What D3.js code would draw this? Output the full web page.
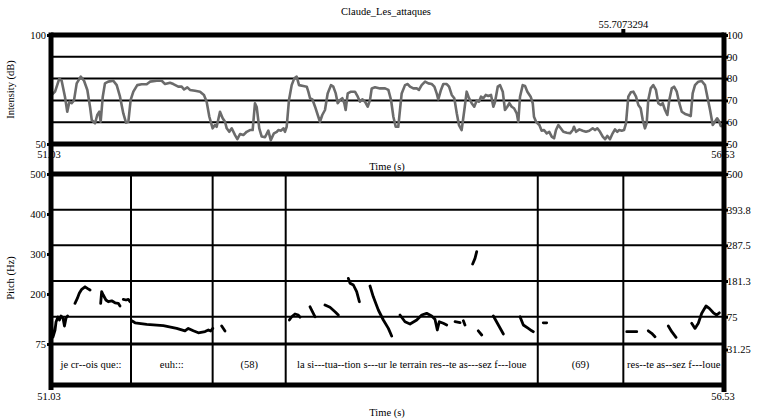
<!DOCTYPE html>
<html><head><meta charset="utf-8">
<script src="https://cdn.jsdelivr.net/npm/d3@7"></script>
<style>
body{margin:0;background:#fff}
svg{display:block}
text{font-family:"Liberation Serif","Times New Roman",serif;fill:#000}
</style>
</head><body><svg id="c" width="757" height="420"></svg>
<script>
// ---------------- data ----------------
const title = "Claude_Les_attaques";
const timeDomain = [51.03, 56.53];
const timeLabels = ["51.03", "56.53"];
const cursorTime = 55.7073294;
const cursorLabel = "55.7073294";

const intensityDomain = [50, 100];
const intensityLeftTicks = [50, 100];
const intensityRightTicks = [50, 60, 70, 80, 90, 100];
const intensityGrid = [60, 70, 80, 90];

const intensityTime = [51.030,51.036,51.063,51.098,51.117,51.144,51.163,51.180,51.199,51.218,51.240,51.273,51.300,51.327,51.349,51.363,51.390,51.408,51.425,51.436,51.453,51.471,51.498,51.539,51.567,51.594,51.621,51.643,51.662,51.681,51.703,51.735,51.771,51.812,51.839,51.894,51.935,51.962,52.003,52.030,52.070,52.098,52.117,52.144,52.166,52.207,52.248,52.280,52.302,52.324,52.351,52.370,52.384,52.411,52.433,52.452,52.466,52.487,52.507,52.534,52.553,52.575,52.602,52.629,52.656,52.678,52.697,52.711,52.732,52.752,52.779,52.806,52.826,52.852,52.875,52.888,52.910,52.929,52.942,52.956,52.975,52.997,53.018,53.038,53.057,53.092,53.120,53.133,53.147,53.166,53.188,53.210,53.228,53.247,53.269,53.291,53.318,53.337,53.357,53.373,53.392,53.411,53.427,53.438,53.455,53.482,53.514,53.537,53.555,53.574,53.596,53.618,53.637,53.651,53.678,53.719,53.760,53.787,53.809,53.828,53.847,53.868,53.882,53.896,53.923,53.945,53.964,53.991,54.019,54.037,54.059,54.087,54.114,54.141,54.163,54.182,54.195,54.217,54.236,54.264,54.283,54.305,54.326,54.346,54.364,54.386,54.408,54.427,54.446,54.468,54.489,54.509,54.528,54.544,54.563,54.583,54.604,54.626,54.645,54.659,54.681,54.700,54.722,54.740,54.759,54.776,54.795,54.814,54.836,54.849,54.863,54.885,54.904,54.923,54.950,54.967,54.977,54.994,55.021,55.040,55.059,55.081,55.102,55.122,55.141,55.157,55.176,55.196,55.217,55.245,55.272,55.294,55.304,55.321,55.348,55.375,55.402,55.429,55.457,55.476,55.495,55.517,55.539,55.558,55.576,55.598,55.620,55.639,55.658,55.674,55.694,55.713,55.729,55.748,55.768,55.789,55.811,55.830,55.849,55.866,55.884,55.898,55.911,55.931,55.952,55.974,55.993,56.013,56.029,56.048,56.067,56.083,56.103,56.122,56.144,56.165,56.185,56.212,56.238,56.258,56.274,56.293,56.320,56.348,56.375,56.394,56.416,56.438,56.456,56.474,56.492,56.503,56.530];
const intensityDb = [71.0,72.5,74.0,80.0,79.0,71.7,64.8,69.4,68.7,70.0,77.8,80.9,79.0,74.8,67.0,61.0,59.5,63.3,64.8,60.2,71.7,77.8,78.6,79.0,77.0,71.7,64.0,59.8,60.2,70.2,74.0,77.0,77.4,77.4,78.6,79.0,79.0,77.5,78.1,77.5,76.3,76.3,75.0,76.0,74.8,74.4,74.0,72.5,69.4,62.5,57.2,58.7,57.9,64.8,61.8,60.2,57.2,55.6,57.2,54.1,52.2,54.6,54.1,55.6,56.4,56.4,68.7,67.0,57.2,53.4,53.1,56.1,51.8,54.9,55.6,56.4,56.1,57.2,55.6,57.9,70.2,77.0,80.1,80.9,77.0,76.6,76.3,74.0,71.0,70.5,67.1,63.3,60.2,63.3,65.6,73.2,77.0,76.3,73.2,68.7,70.2,71.0,68.7,65.6,73.2,74.0,74.0,71.7,69.4,70.5,69.4,67.1,70.2,75.5,76.0,75.5,75.5,74.8,70.2,62.5,57.9,57.9,65.6,73.2,77.0,77.5,76.3,75.5,75.5,74.8,77.0,78.6,77.8,77.5,76.3,73.2,70.5,74.8,77.5,77.5,76.3,72.5,71.0,64.1,58.7,56.4,65.6,74.0,71.0,68.7,67.1,69.9,69.4,71.7,71.0,72.5,72.0,72.5,67.1,69.4,76.3,77.0,74.0,65.6,67.1,68.7,67.1,66.4,64.1,60.2,71.7,77.0,76.6,74.0,71.7,68.7,62.5,60.2,58.7,56.1,56.4,54.9,55.6,53.4,52.6,56.4,58.7,57.2,55.6,55.2,54.9,56.4,57.9,55.6,56.7,56.1,55.6,56.1,57.2,56.4,57.2,55.6,53.4,52.2,53.7,52.2,54.9,56.7,55.6,56.4,56.1,56.4,59.5,71.7,73.7,74.0,71.7,67.9,66.4,61.0,57.2,59.5,70.2,75.5,77.0,74.8,68.7,67.9,68.7,65.6,63.3,70.2,75.5,76.3,74.0,68.7,64.8,63.8,63.3,62.8,73.2,77.0,78.6,78.9,77.0,71.7,65.6,58.7,60.2,61.8,60.2,58.3,58.0];

const pitchDomain = [75, 500];
const pitchLeftTicks = [75, 200, 300, 400, 500];
const pitchRightTicks = [500, 393.75, 287.5, 181.25, 75];
const pitchRightLabels = ["500", "393.8", "287.5", "181.3", "75"];
const pitchExtraLabel = "31.25";

// null separates voiced stretches
const pitchTime = [51.034,51.046,51.063,51.071,51.087,51.099,51.112,51.128,51.140,51.153,51.165,null,
  51.226,51.245,51.261,51.281,51.308,51.327,51.349,null,
  51.436,51.444,51.457,51.479,51.498,51.526,51.553,51.580,51.594,null,
  51.621,51.643,51.662,51.676,null,
  51.690,51.717,51.812,51.948,52.057,52.125,52.152,52.193,52.234,52.289,52.316,52.335,52.352,null,
  52.425,52.452,null,
  52.978,52.997,53.024,53.051,53.065,null,
  53.147,53.188,null,
  53.269,53.310,53.351,53.378,null,
  53.460,53.474,53.501,53.528,53.550,null,
  53.637,53.664,53.705,53.746,53.787,53.814,null,
  53.882,53.923,53.964,54.019,54.060,54.100,54.141,54.168,54.187,54.203,54.236,54.264,null,
  54.332,54.373,null,
  54.400,54.413,null,
  54.476,54.495,54.509,null,
  54.522,54.550,null,
  54.645,54.686,54.727,null,
  54.863,54.890,54.931,54.959,54.972,null,
  55.053,55.081,null,
  55.735,55.817,null,
  55.911,55.939,55.966,null,
  56.075,56.103,56.138,null,
  56.266,56.293,56.320,56.348,56.383,56.410,56.443,56.470,56.492];
const pitchHz = [122.5,92.5,110,130,142.5,135,145,140,120,140,145,null,
  176.7,189,201.7,211.7,218,214,210,null,
  176.7,205.7,197.5,185,180.7,183,178,176.7,170,null,
  186.7,185,186.7,180.7,null,
  133,128,124,121,114,108,114,108,103,106,110,107.5,114,null,
  120,107.5,null,
  135,143,150,147.5,142,null,
  168,143,null,
  172.5,166.7,155.7,147.5,null,
  239,227,222.5,205.7,180.7,null,
  220,193,160,135,114,95,null,
  147.5,130.7,125,135,147.5,151.7,145,136.7,110,130.7,126.7,122.5,null,
  130.7,128.3,null,
  133,122.5,null,
  275,289,305.7,null,
  108,97.5,null,
  145,122.5,100,null,
  143,122.5,114,108,105.8,null,
  128,128,null,
  105.8,105.8,null,
  108,101.7,93,null,
  120,105.8,91.7,null,
  126.7,114,126.7,151.7,170,164,153,147.5,153];

const tierBounds = [51.03, 51.684, 52.351, 52.948, 55.008, 55.7073294, 56.53];
const tierLabels = ["je cr--ois que::", "euh:::", "(58)",
  "la si---tua--tion s---ur le terrain res--te as---sez f---loue", "(69)",
  "res--te as--sez f---loue"];

// ---------------- layout ----------------
const L = 51, R = 724;
const iTop = 35, iBot = 144;
const pTop = 174, pBot = 344, tBot = 385;
const FS = 10.5;
const svg = d3.select("#c");

const x = d3.scaleLinear().domain(timeDomain).range([L, R]);
const yI = d3.scaleLinear().domain(intensityDomain).range([iBot, iTop]);
const yP = d3.scaleLinear().domain(pitchDomain).range([pBot, pTop]);
const yPR = d3.scaleLinear().domain(pitchDomain).range([316.7, pTop]);

// title & cursor
svg.append("text").attr("x", 386).attr("y", 15).attr("text-anchor", "middle")
  .attr("font-size", FS).text(title);
svg.append("text").attr("x", x(cursorTime)).attr("y", 28).attr("text-anchor", "middle")
  .attr("font-size", FS).text(cursorLabel);
svg.append("rect").attr("x", x(cursorTime) - 2).attr("y", 29).attr("width", 4).attr("height", 8).attr("fill", "#000");

// intensity grid
svg.append("g").selectAll("line").data(intensityGrid).join("line")
  .attr("x1", L).attr("x2", R).attr("y1", d => yI(d)).attr("y2", d => yI(d))
  .attr("stroke", "#000").attr("stroke-width", 2);

// pitch grid
svg.append("g").selectAll("line").data(pitchRightTicks.slice(1)).join("line")
  .attr("x1", L).attr("x2", R).attr("y1", d => yPR(d)).attr("y2", d => yPR(d))
  .attr("stroke", "#000").attr("stroke-width", 2);
svg.append("line").attr("x1", L).attr("x2", R).attr("y1", yP(75)).attr("y2", yP(75))
  .attr("stroke", "#000").attr("stroke-width", 3);

// tier boundaries
svg.append("g").selectAll("line").data(tierBounds.slice(1, -1)).join("line")
  .attr("x1", d => x(d)).attr("x2", d => x(d)).attr("y1", pTop).attr("y2", tBot)
  .attr("stroke", "#000").attr("stroke-width", 2);

// tier labels
const mids = tierLabels.map((s, i) => (tierBounds[i] + tierBounds[i + 1]) / 2);
svg.append("g").selectAll("text").data(tierLabels).join("text")
  .attr("x", (d, i) => x(mids[i])).attr("y", 368).attr("text-anchor", "middle")
  .attr("font-size", FS).text(d => d);

// intensity curve
const iData = intensityTime.map((t, i) => [t, intensityDb[i]]);
svg.append("path").datum(iData)
  .attr("d", d3.line().x(d => x(d[0])).y(d => yI(d[1])))
  .attr("fill", "none").attr("stroke", "#6b6b6b").attr("stroke-width", 2.6)
  .attr("stroke-linejoin", "round");

// pitch curve
const pData = pitchTime.map((t, i) => [t, pitchHz[i]]);
svg.append("path").datum(pData)
  .attr("d", d3.line().defined(d => d[0] !== null).x(d => x(d[0])).y(d => yP(d[1])))
  .attr("fill", "none").attr("stroke", "#000").attr("stroke-width", 2.8)
  .attr("stroke-linecap", "round").attr("stroke-linejoin", "round");

// frame
const frame = svg.append("g").attr("stroke", "#000").attr("stroke-width", 5);
[iTop, iBot, pTop, tBot].forEach(yy => frame.append("line").attr("x1", L).attr("x2", R).attr("y1", yy).attr("y2", yy));
frame.append("line").attr("x1", L).attr("x2", L).attr("y1", iTop - 2.5).attr("y2", tBot + 5);
frame.append("line").attr("x1", R).attr("x2", R).attr("y1", iTop - 2.5).attr("y2", tBot + 7);

// axes
function styleAxis(g) {
  g.select(".domain").remove();
  g.selectAll(".tick line").attr("stroke", "#000").attr("stroke-width", 3);
  g.selectAll("text").attr("font-size", FS).attr("font-family", '"Liberation Serif","Times New Roman",serif');
}
svg.append("g").attr("transform", `translate(${L},0)`)
  .call(d3.axisLeft(yI).tickValues(intensityLeftTicks).tickSize(4).tickPadding(1).tickFormat(d3.format("d")))
  .call(styleAxis);
svg.append("g").attr("transform", `translate(${R},0)`)
  .call(d3.axisRight(yI).tickValues(intensityRightTicks).tickSize(4).tickPadding(-1).tickFormat(d3.format("d")))
  .call(styleAxis);
svg.append("g").attr("transform", `translate(${L},0)`)
  .call(d3.axisLeft(yP).tickValues(pitchLeftTicks).tickSize(4).tickPadding(1).tickFormat(d3.format("d")))
  .call(styleAxis);
svg.append("g").attr("transform", `translate(${R},0)`)
  .call(d3.axisRight(yPR).tickValues(pitchRightTicks).tickSize(4).tickPadding(-1).tickFormat((d, i) => pitchRightLabels[i]))
  .call(styleAxis);
// extra right label in the tier zone
svg.append("line").attr("x1", R).attr("x2", R + 4).attr("y1", pBot + 6).attr("y2", pBot + 6).attr("stroke", "#000").attr("stroke-width", 3);
svg.append("text").attr("x", R + 3).attr("y", pBot + 6).attr("dy", "0.32em").attr("font-size", FS).text(pitchExtraLabel);

// time labels
[[iBot + 11, 0], [iBot + 11, 1], [tBot + 12, 0], [tBot + 12, 1]].forEach(([yy, i]) => {
  svg.append("text").attr("x", x(timeDomain[i]) + (i ? -1 : -2)).attr("y", yy).attr("dy", "0.32em")
    .attr("text-anchor", "middle").attr("font-size", FS).text(timeLabels[i]);
});
svg.append("text").attr("x", 387).attr("y", 170).attr("text-anchor", "middle").attr("font-size", FS).text("Time (s)");
svg.append("text").attr("x", 387).attr("y", 416).attr("text-anchor", "middle").attr("font-size", FS).text("Time (s)");

// y titles
svg.append("text").attr("transform", `translate(14,${(iTop + iBot) / 2}) rotate(-90)`)
  .attr("text-anchor", "middle").attr("font-size", FS).text("Intensity (dB)");
svg.append("text").attr("transform", `translate(14,${(pTop + 382) / 2}) rotate(-90)`)
  .attr("text-anchor", "middle").attr("font-size", FS).text("Pitch (Hz)");
</script>
</body></html>
